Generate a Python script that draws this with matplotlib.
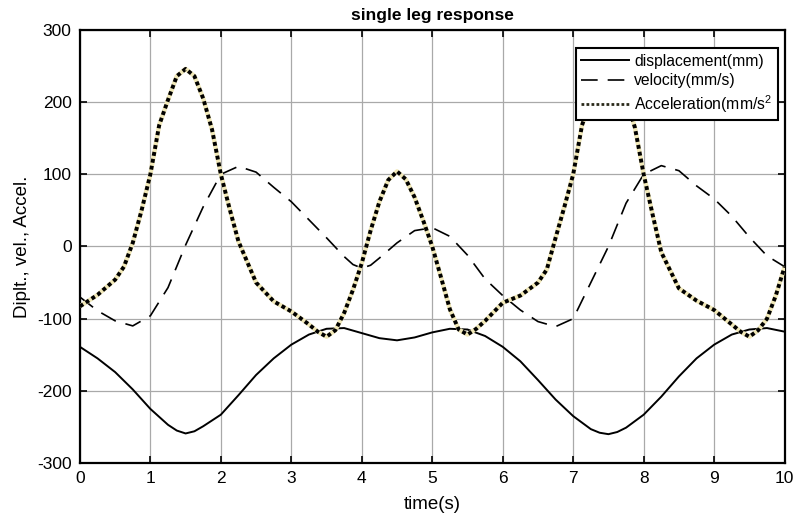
import matplotlib
matplotlib.use("Agg")
import matplotlib.pyplot as plt

plt.rcParams['font.family'] = ['Liberation Sans', 'DejaVu Sans']
plt.rcParams['mathtext.fontset'] = 'custom'
plt.rcParams['mathtext.rm'] = 'Liberation Sans'
plt.rcParams['axes.unicode_minus'] = False

# ---- data ----
disp_t = [0.0, 0.25, 0.5, 0.75, 1.0, 1.25, 1.375, 1.5, 1.625, 1.75, 2.0, 2.25, 2.5, 2.75, 3.0,
          3.25, 3.5, 3.75, 4.0, 4.25, 4.5, 4.75, 5.0, 5.25, 5.5, 5.75, 6.0, 6.25, 6.5, 6.75,
          7.0, 7.25, 7.375, 7.5, 7.625, 7.75, 8.0, 8.25, 8.5, 8.75, 9.0, 9.25, 9.5, 9.75, 10.0]
disp = [-139, -155, -174, -198, -225, -247, -255, -259, -256, -249, -233, -206, -178, -155, -136,
        -122, -114, -113, -120, -127, -130, -126, -119, -114, -115, -124, -139, -159, -185, -212,
        -235, -253, -258, -260, -257, -251, -233, -208, -180, -155, -136, -122, -115, -113, -118]

vel_t = [0.0, 0.25, 0.5, 0.75, 1.0, 1.25, 1.5, 1.75, 2.0, 2.25, 2.5, 2.75, 3.0, 3.25, 3.5,
         3.75, 3.875, 4.0, 4.125, 4.25, 4.5, 4.75, 5.0, 5.25, 5.5, 5.75, 6.0, 6.25, 6.5, 6.75,
         7.0, 7.25, 7.5, 7.75, 8.0, 8.25, 8.5, 8.75, 9.0, 9.25, 9.5, 9.75, 10.0]
vel = [-70, -89, -103, -110, -96, -57, 2, 55, 100, 111, 103, 82, 62, 37, 12,
       -14, -25, -30, -26, -16, 5, 22, 26, 14, -12, -45, -68, -88, -104, -111,
       -100, -50, 0, 60, 100, 112, 105, 84, 66, 42, 13, -13, -28]

acc_t = [0.0, 0.25, 0.5, 0.625, 0.75, 0.875, 1.0, 1.125, 1.25, 1.375, 1.5, 1.625, 1.75, 1.875,
         2.0, 2.125, 2.25, 2.5, 2.75, 3.0, 3.25, 3.375, 3.5, 3.625, 3.75, 3.875, 4.0, 4.125,
         4.25, 4.375, 4.5, 4.625, 4.75, 4.875, 5.0, 5.125, 5.25, 5.375, 5.5, 5.625, 5.75, 6.0,
         6.25, 6.5, 6.625, 6.75, 6.875, 7.0, 7.125, 7.25, 7.375, 7.5, 7.625, 7.75, 7.875, 8.0,
         8.125, 8.25, 8.5, 8.75, 9.0, 9.25, 9.375, 9.5, 9.625, 9.75, 9.875, 10.0]
acc = [-83, -67, -46, -28, 5, 50, 100, 168, 203, 236, 246, 236, 205, 162,
       100, 52, 7, -50, -76, -90, -108, -118, -125, -116, -92, -60, -23, 22,
       62, 92, 104, 93, 68, 35, 0, -43, -87, -115, -122, -114, -103, -78,
       -68, -50, -32, 12, 55, 100, 168, 203, 236, 246, 236, 205, 165, 100,
       45, -8, -58, -75, -88, -108, -118, -125, -116, -100, -68, -28]

x_ticks = [0, 1, 2, 3, 4, 5, 6, 7, 8, 9, 10]
y_ticks = [-300, -200, -100, 0, 100, 200, 300]
labels = ['displacement(mm)', 'velocity(mm/s)', r'Acceleration(mm/$\mathregular{s^2}$']

# ---- figure ----
fig = plt.figure(figsize=(7.99, 5.25), dpi=100)
ax = fig.add_axes([0.100, 0.118, 0.882, 0.825])

l1, = ax.plot(disp_t, disp, color='black', lw=1.4, zorder=3)
l2, = ax.plot(vel_t, vel, color='black', lw=1.2, linestyle=(0, (10, 6)), zorder=3)
ax.plot(acc_t, acc, color='#f1e8b8', lw=3.2, solid_capstyle='butt', zorder=4)
l3, = ax.plot(acc_t, acc, color='black', lw=2.8, linestyle=(0, (1, 0.8)), zorder=5)

ax.set_xlim(0, 10)
ax.set_ylim(-300, 300)
ax.set_xticks(x_ticks)
ax.set_yticks(y_ticks)
ax.tick_params(direction='in', top=True, right=True, length=5, width=1.2,
               labelsize=12.5, pad=6)
ax.grid(True, color='#a9a9a9', lw=0.9)
ax.set_axisbelow(True)
for s in ax.spines.values():
    s.set_linewidth(1.6)

ax.set_title('single leg response', fontsize=12.5, fontweight='bold', pad=7)
ax.set_xlabel('time(s)', fontsize=13.5, labelpad=7)
ax.set_ylabel('Diplt., vel., Accel.', fontsize=13.5, labelpad=4)

leg = ax.legend([l1, l2, l3], labels, loc='upper right',
                bbox_to_anchor=(0.990, 0.958), borderaxespad=0,
                fontsize=11.3, fancybox=False, framealpha=1, edgecolor='black',
                handlelength=3.0, handletextpad=0.35, labelspacing=0.3,
                borderpad=0.35)
leg.get_frame().set_linewidth(1.5)
leg.get_lines()[2].set_linewidth(2.0)
leg.get_lines()[2].set_color('#2a2a1a')

fig.savefig('out.png', dpi=100)
